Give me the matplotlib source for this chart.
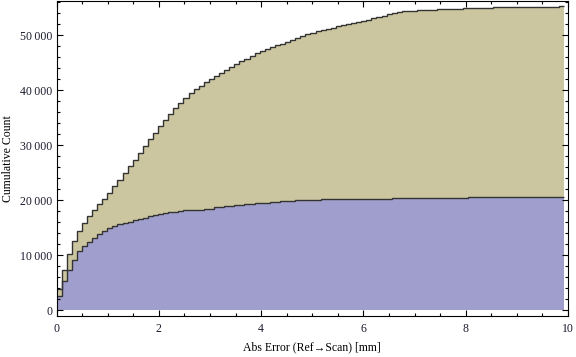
import numpy as np
import matplotlib.pyplot as plt
from matplotlib.ticker import MultipleLocator, FuncFormatter

# bin edges (100 bins, ~0.1 mm wide)
edges = np.linspace(0, 9.93, 101)

# cumulative count, all scans (top curve)
total = [3850, 7300, 10220, 12580, 14400, 15850, 17130, 18220, 19310, 20330,
         21310, 22580, 23780, 25050, 26220, 27310, 28580, 29910, 31180, 32210,
         33490, 34630, 35670, 36760, 37670, 38630, 39490, 40210, 40760, 41490,
         42030, 42580, 43180, 43670, 44210, 44760, 45300, 45670, 46210, 46760,
         47120, 47490, 47850, 48210, 48390, 48760, 49120, 49490, 49850, 50210,
         50390, 50760, 50950, 51050, 51230, 51600, 51900, 52090, 52270, 52450,
         52630, 52820, 53050, 53360, 53540, 53780, 54030, 54210, 54390, 54390,
         54390, 54500, 54500, 54500, 54500, 54760, 54760, 54760, 54760, 54760,
         54940, 54940, 54940, 54940, 54940, 54940, 55120, 55120, 55120, 55120,
         55120, 55120, 55120, 55120, 55120, 55120, 55120, 55120, 55120, 55360]

# cumulative count, first series (bottom curve)
part = [2690, 5310, 7420, 9240, 10760, 11670, 12510, 13240, 13910, 14510,
        15000, 15360, 15730, 15960, 16140, 16450, 16630, 16870, 17120, 17300,
        17490, 17670, 17850, 17910, 18030, 18210, 18270, 18270, 18270, 18510,
        18510, 18760, 18760, 19000, 19000, 19180, 19180, 19360, 19360, 19540,
        19540, 19540, 19720, 19720, 19900, 19900, 19900, 20030, 20030, 20030,
        20030, 20030, 20210, 20210, 20210, 20210, 20210, 20210, 20210, 20210,
        20210, 20210, 20210, 20210, 20210, 20210, 20390, 20390, 20390, 20390,
        20390, 20390, 20390, 20390, 20390, 20390, 20390, 20390, 20390, 20390,
        20390, 20570, 20570, 20570, 20570, 20570, 20570, 20570, 20570, 20570,
        20570, 20570, 20570, 20570, 20570, 20570, 20570, 20570, 20570, 20570]

plt.rcParams['font.family'] = ['Liberation Serif', 'DejaVu Serif']

fig = plt.figure(figsize=(5.76, 3.57), dpi=100)
ax = fig.add_axes([0.0981, 0.1157, 0.888, 0.8801])

tan = '#cbc69f'
blue = '#a09ecc'
edge = '#333333'

ax.stairs(total, edges, fill=True, color=tan, lw=0)
ax.stairs(part, edges, fill=True, color=blue, lw=0)
ax.stairs(total, edges, baseline=None, color=edge, lw=1.0)
ax.stairs(part, edges, baseline=None, color=edge, lw=1.0)

ax.set_xlim(0, 10)
ax.set_ylim(-945, 56110)

ax.xaxis.set_major_locator(MultipleLocator(2))
ax.xaxis.set_minor_locator(MultipleLocator(0.5))
ax.yaxis.set_major_locator(MultipleLocator(10000))
ax.yaxis.set_minor_locator(MultipleLocator(2000))

def thousands(v, pos):
    v = int(round(v))
    if v >= 10000:
        return f'{v // 1000}\u2009{v % 1000:03d}'
    return str(v)

ax.yaxis.set_major_formatter(FuncFormatter(thousands))

ax.tick_params(which='both', direction='in', top=True, right=True,
               colors='black', labelcolor='#1a1a2e', labelsize=8.5, width=0.8)
ax.tick_params(which='major', length=4)
ax.tick_params(which='minor', length=2.5)
ax.tick_params(axis='x', pad=5)
ax.tick_params(axis='y', pad=3)

for s in ax.spines.values():
    s.set_linewidth(0.8)

ax.set_xlabel('Abs Error (Ref\u2192Scan) [mm]', fontsize=8.5, labelpad=5)
ax.set_ylabel('Cumulative Count', fontsize=8.5, labelpad=4)

fig.savefig('out.png', dpi=100)
